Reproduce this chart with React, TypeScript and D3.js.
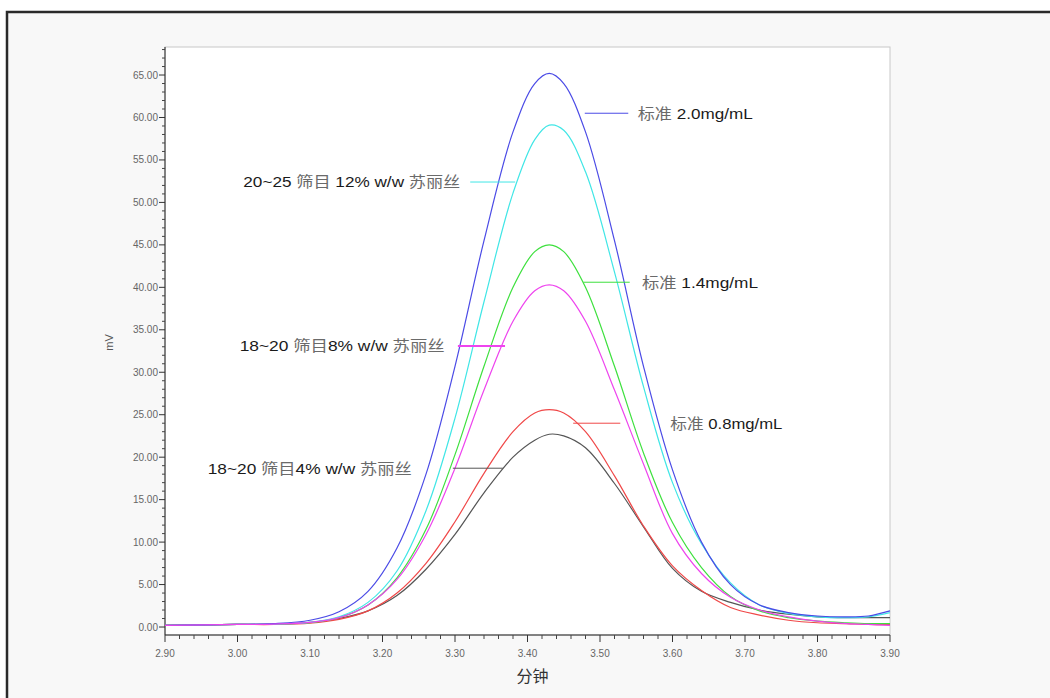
import React from 'react';
import * as d3 from 'd3';

// retention time (min), shared by all traces
const times = [2.90, 3.00, 3.05, 3.10, 3.14, 3.18, 3.22, 3.26, 3.30, 3.34, 3.38, 3.41, 3.43, 3.45, 3.48, 3.52, 3.56, 3.60, 3.64, 3.68, 3.72, 3.76, 3.80, 3.84, 3.87, 3.90];

// signal (mV)
const std20 = [0.2, 0.3, 0.4, 0.8, 1.8, 4.2, 9.3, 18.0, 30.7, 45.5, 58.3, 64.0, 65.2, 64.0, 58.3, 45.5, 30.7, 18.5, 10.0, 5.0, 2.6, 1.7, 1.3, 1.2, 1.3, 1.9];
const mesh12 = [0.2, 0.3, 0.35, 0.55, 1.2, 2.9, 6.6, 13.7, 24.6, 38.3, 51.1, 57.4, 59.1, 58.5, 53.6, 41.8, 28.3, 17.0, 9.8, 5.2, 2.6, 1.6, 1.2, 1.1, 1.2, 1.7];
const std14 = [0.2, 0.3, 0.35, 0.5, 1.1, 2.6, 5.8, 11.5, 20.3, 30.7, 40.0, 44.2, 45.0, 44.2, 40.0, 30.7, 20.5, 12.3, 7.0, 3.6, 1.9, 1.1, 0.7, 0.5, 0.4, 0.4];
const mesh8 = [0.2, 0.3, 0.35, 0.55, 1.1, 2.6, 5.6, 10.9, 18.7, 27.9, 36.0, 39.6, 40.3, 39.6, 36.0, 27.9, 19.2, 11.0, 6.3, 3.5, 2.0, 1.2, 0.7, 0.4, 0.3, 0.2];
const std08 = [0.2, 0.3, 0.3, 0.45, 0.9, 1.9, 4.0, 7.5, 12.4, 18.1, 23.0, 25.2, 25.6, 25.2, 23.0, 17.8, 11.9, 7.2, 4.3, 2.3, 1.4, 0.8, 0.5, 0.4, 0.3, 0.3];
const mesh4 = [0.2, 0.3, 0.35, 0.55, 1.0, 1.9, 3.7, 6.8, 10.9, 15.8, 20.0, 22.0, 22.7, 22.5, 21.1, 16.9, 11.8, 6.9, 4.2, 2.9, 2.0, 1.5, 1.2, 1.1, 1.1, 1.1];

const yTicks = [0, 5, 10, 15, 20, 25, 30, 35, 40, 45, 50, 55, 60, 65];
const xTicks = [2.9, 3.0, 3.1, 3.2, 3.3, 3.4, 3.5, 3.6, 3.7, 3.8, 3.9];

// label text, leader line (x0,x1 in min, y in mV), text start (min)
const series = [
  { name: 'black', values: mesh4, color: '#555555', label: '18~20 筛目4% w/w 苏丽丝', lx0: 3.297, lx1: 3.366, ly: 18.7, tx: 2.959, tw: 204, lw: 1 },
  { name: 'red', values: std08, color: '#f04848', label: '标准 0.8mg/mL', lx0: 3.463, lx1: 3.528, ly: 24.0, tx: 3.597, tw: 112, lw: 1 },
  { name: 'green', values: std14, color: '#3ee03e', label: '标准 1.4mg/mL', lx0: 3.477, lx1: 3.541, ly: 40.6, tx: 3.558, tw: 116, lw: 1 },
  { name: 'cyan', values: mesh12, color: '#40e6e6', label: '20~25 筛目 12% w/w 苏丽丝', lx0: 3.321, lx1: 3.383, ly: 52.4, tx: 3.008, tw: 217, lw: 1 },
  { name: 'blue', values: std20, color: '#4b4be6', label: '标准 2.0mg/mL', lx0: 3.479, lx1: 3.539, ly: 60.5, tx: 3.552, tw: 115, lw: 1 },
  { name: 'magenta', values: mesh8, color: '#ee44ee', label: '18~20 筛目8% w/w 苏丽丝', lx0: 3.304, lx1: 3.369, ly: 33.1, tx: 3.003, tw: 205, lw: 2 },
];

const W = 1050;
const H = 698;
const plot = { left: 165, right: 890, top: 47, bottom: 635 };

function splitCjk(s: string) {
  return s.split(/([\u4e00-\u9fff]+)/).filter((p) => p.length > 0);
}

export default function App() {
  const x = d3.scaleLinear().domain([2.9, 3.9]).range([plot.left, plot.right]);
  const y = d3.scaleLinear().domain([-0.94, 68.3]).range([plot.bottom, plot.top]);

  const line = d3
    .line<number>()
    .x((_, i) => x(times[i]))
    .y((d) => y(d))
    .curve(d3.curveCatmullRom.alpha(0.5));

  const yMinor = d3.range(0, 69, 1).filter((v) => v % 5 !== 0);
  const xMinor = d3.range(0, 51, 1).map((i) => 2.9 + i * 0.02).filter((_, i) => i % 5 !== 0);

  const font = '"Liberation Sans", Arial, "Noto Sans CJK SC", sans-serif';

  return (
    <svg width={W} height={H} style={{ position: 'absolute', left: 0, top: 0 }} fontFamily={font}>
      <rect x={0} y={0} width={W} height={H} fill="#ffffff" />
      <rect x={7} y={12} width={W + 20} height={H + 20} fill="#f8f8f8" stroke="#2a2a2a" strokeWidth={2.5} />

      <rect
        x={plot.left}
        y={plot.top}
        width={plot.right - plot.left}
        height={plot.bottom - plot.top}
        fill="#ffffff"
        stroke="#c8c8c8"
        strokeWidth={1}
      />

      {/* y axis */}
      <line x1={plot.left} x2={plot.left} y1={plot.top} y2={plot.bottom} stroke="#222" />
      {yMinor.map((v) => (
        <line key={'ym' + v} x1={plot.left - 3} x2={plot.left} y1={y(v)} y2={y(v)} stroke="#444" />
      ))}
      {yTicks.map((v) => (
        <g key={'y' + v}>
          <line x1={plot.left - 6} x2={plot.left} y1={y(v)} y2={y(v)} stroke="#333" />
          <text x={plot.left - 7} y={y(v)} dy="0.35em" textAnchor="end" fontSize={10} fill="#666">
            {v.toFixed(2)}
          </text>
        </g>
      ))}
      <text
        transform={`translate(113,${y(33.5)}) rotate(-90)`}
        textAnchor="middle"
        fontSize={11}
        fill="#555"
      >
        mV
      </text>

      {/* x axis */}
      <line x1={plot.left} x2={plot.right} y1={plot.bottom} y2={plot.bottom} stroke="#222" />
      {xMinor.map((v) => (
        <line key={'xm' + v} x1={x(v)} x2={x(v)} y1={plot.bottom} y2={plot.bottom + 4} stroke="#444" />
      ))}
      {xTicks.map((v) => (
        <g key={'x' + v}>
          <line x1={x(v)} x2={x(v)} y1={plot.bottom} y2={plot.bottom + 7} stroke="#333" />
          <text x={x(v)} y={plot.bottom + 18} dy="0.35em" textAnchor="middle" fontSize={10} fill="#666">
            {v.toFixed(2)}
          </text>
        </g>
      ))}
      <text x={x(3.407)} y={676} dy="0.35em" textAnchor="middle" fontSize={16} fill="#333">
        分钟
      </text>

      {/* traces */}
      {series.map((s) => (
        <path key={s.name} d={line(s.values) || ''} fill="none" stroke={s.color} strokeWidth={1.2} />
      ))}

      {/* labels with leader lines */}
      {series.map((s) => (
        <g key={'l' + s.name}>
          <line x1={x(s.lx0)} x2={x(s.lx1)} y1={y(s.ly)} y2={y(s.ly)} stroke={s.color} strokeWidth={s.lw} />
          <text
            x={x(s.tx)}
            y={y(s.ly)}
            dy="0.36em"
            fontSize={15}
            textLength={s.tw}
            lengthAdjust="spacingAndGlyphs"
            fill="#1a1a1a"
          >
            {splitCjk(s.label).map((p, i) =>
              /[\u4e00-\u9fff]/.test(p) ? (
                <tspan key={i} fill="#6a6a6a">
                  {p}
                </tspan>
              ) : (
                <tspan key={i}>{p}</tspan>
              )
            )}
          </text>
        </g>
      ))}
    </svg>
  );
}
